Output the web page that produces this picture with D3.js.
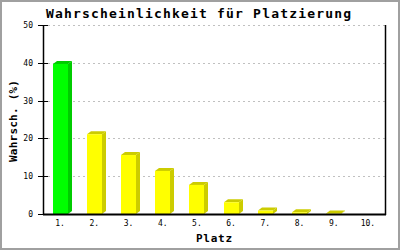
<!DOCTYPE html>
<html><head><meta charset="utf-8">
<script src="https://cdn.jsdelivr.net/npm/d3@7"></script>
<style>body{margin:0;background:#fff}svg{display:block}</style>
</head><body>
<svg id="c" width="400" height="250"></svg>
<script>
const categories = ["1.","2.","3.","4.","5.","6.","7.","8.","9.","10."];
const values = [39.7, 21.1, 15.6, 11.4, 7.7, 3.1, 0.9, 0.45, 0.1, 0];
const yTicks = [0,10,20,30,40,50];
const title = "Wahrscheinlichkeit für Platzierung";
const xTitle = "Platz";
const yTitle = "Wahrsch. (%)";

const svg = d3.select("#c");
const mono = "'DejaVu Sans Mono', monospace";
const L = 43, R = 385, T = 25, B = 214;

svg.append("rect").attr("x",1).attr("y",1).attr("width",398).attr("height",248)
  .attr("fill","#fff").attr("stroke","#a0a0a0").attr("stroke-width",2);

const x = d3.scaleBand().domain(categories).range([L,R]).paddingInner(0.56).paddingOuter(0.28);
const y = d3.scaleLinear().domain([0,50]).range([B,T]);

// gridlines
svg.append("g").selectAll("line").data(yTicks.filter(d=>d>0)).join("line")
  .attr("x1",L).attr("x2",R).attr("y1",d=>Math.round(y(d))+0.5).attr("y2",d=>Math.round(y(d))+0.5)
  .attr("stroke","#c0c0c0").attr("stroke-dasharray","2,3");

// bars (3D)
const dx = 4, dy = 3;
const g = svg.append("g");
values.forEach((v,i)=>{
  if (v <= 0) return;
  const x0 = Math.round(x(categories[i])), w = Math.round(x.bandwidth());
  const y0 = y(v), yb = B;
  const front = i===0 ? "#00ff00" : "#ffff00";
  const dark = i===0 ? "#00cc00" : "#cccc00";
  g.append("path").attr("d",`M${x0+w},${y0} L${x0+w+dx},${y0-dy} L${x0+w+dx},${yb-dy} L${x0+w},${yb} Z`).attr("fill",dark);
  g.append("path").attr("d",`M${x0},${y0} L${x0+dx},${y0-dy} L${x0+w+dx},${y0-dy} L${x0+w},${y0} Z`).attr("fill",dark);
  g.append("rect").attr("x",x0).attr("y",y0).attr("width",w).attr("height",yb-y0).attr("fill",front);
});

// axes lines
svg.append("line").attr("x1",L+0.5).attr("x2",L+0.5).attr("y1",T).attr("y2",B+1).attr("stroke","#000").attr("stroke-width",1.5);
svg.append("line").attr("x1",R+0.5).attr("x2",R+0.5).attr("y1",T).attr("y2",B+1).attr("stroke","#000").attr("stroke-width",1.5);
svg.append("line").attr("x1",L).attr("x2",R+1).attr("y1",B+0.5).attr("y2",B+0.5).attr("stroke","#000").attr("stroke-width",2);

// y ticks
const yt = svg.append("g").selectAll("g").data(yTicks).join("g");
yt.append("line").attr("x1",38).attr("x2",48).attr("y1",d=>Math.round(y(d))+0.5).attr("y2",d=>Math.round(y(d))+0.5).attr("stroke","#000");
yt.append("text").attr("x",33).attr("y",d=>y(d)+3).attr("text-anchor","end")
  .attr("font-family",mono).attr("font-size","8px").text(d=>d);

// x labels
svg.append("g").selectAll("text").data(categories).join("text")
  .attr("x",d=>x(d)+x.bandwidth()/2).attr("y",226).attr("text-anchor","middle")
  .attr("font-family",mono).attr("font-size","8px").text(d=>d);

// titles
svg.append("text").attr("x",46).attr("y",18).attr("font-family",mono).attr("font-weight","bold")
  .attr("font-size","13px").attr("textLength",305).attr("lengthAdjust","spacing").text(title);
svg.append("text").attr("x",(L+R)/2).attr("y",242).attr("text-anchor","middle").attr("font-family",mono)
  .attr("font-weight","bold").attr("font-size","11px").attr("textLength",36).attr("lengthAdjust","spacing").text(xTitle);
svg.append("text").attr("transform","translate(17,121) rotate(-90)").attr("text-anchor","middle").attr("font-family",mono)
  .attr("font-weight","bold").attr("font-size","11px").attr("textLength",82).attr("lengthAdjust","spacing").text(yTitle);
</script>
</body></html>
